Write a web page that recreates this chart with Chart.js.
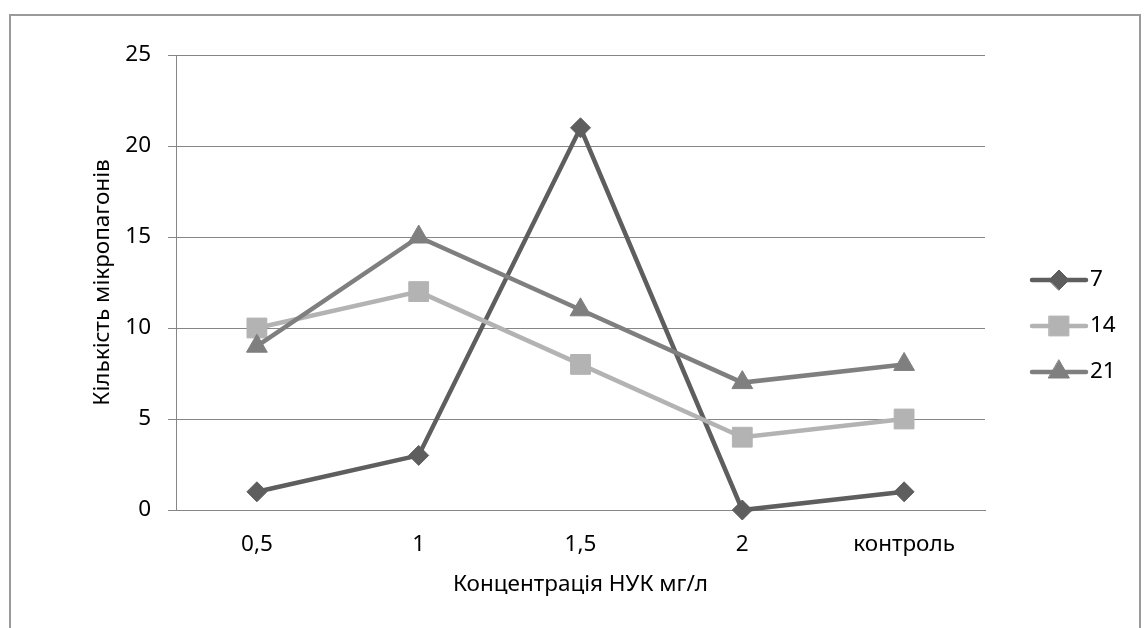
<!DOCTYPE html>
<html>
<head>
<meta charset="utf-8">
<script src="https://cdn.jsdelivr.net/npm/chart.js@4/dist/chart.umd.min.js"></script>
<style>
  html, body { margin: 0; padding: 0; background: #fff; overflow: hidden; }
  #wrap { position: relative; width: 1146px; height: 628px; }
  #frame {
    position: absolute; left: 9px; top: 14px; width: 1132px; height: 700px;
    border: 2px solid #9a9a9a; box-sizing: border-box; pointer-events: none;
  }
</style>
</head>
<body>
<div id="wrap">
  <canvas id="chart" width="1146" height="628"></canvas>
  <div id="frame"></div>
</div>
<script>
/* ── Data ─────────────────────────────────────────────────────── */
const categories = ['0,5', '1', '1,5', '2', 'контроль'];
const series7    = [1, 3, 21, 0, 1];
const series14   = [10, 12, 8, 4, 5];
const series21   = [9, 15, 11, 7, 8];
const yTicks     = [0, 5, 10, 15, 20, 25];

const xTitle = 'Концентрація НУК мг/л';
const yTitle = 'Кількість мікропагонів';

const FONT = '"Noto Sans", "Open Sans", sans-serif';
const FSIZE = 22.5;
const GRID = '#868686';

/* ── Custom legend + axis titles ─────────────────────────────── */
const extras = {
  id: 'extras',
  afterDraw(chart) {
    const { ctx, chartArea } = chart;
    ctx.save();
    ctx.fillStyle = '#000';
    ctx.font = `${FSIZE}px ${FONT}`;
    ctx.textAlign = 'center';
    ctx.textBaseline = 'middle';
    // x title
    ctx.fillText(xTitle, (chartArea.left + chartArea.right) / 2, 585);
    // y title
    ctx.save();
    ctx.translate(103, (chartArea.top + chartArea.bottom) / 2);
    ctx.rotate(-Math.PI / 2);
    ctx.fillText(yTitle, 0, 0);
    ctx.restore();

    // legend
    const legendY = [280, 326, 372];
    chart.data.datasets.forEach((ds, i) => {
      const y = legendY[i];
      ctx.strokeStyle = ds.borderColor;
      ctx.lineWidth = ds.borderWidth;
      ctx.lineCap = 'round';
      ctx.beginPath();
      ctx.moveTo(1032, y);
      ctx.lineTo(1086, y);
      ctx.stroke();
      ctx.fillStyle = ds.pointBackgroundColor;
      ctx.strokeStyle = ds.pointBorderColor;
      ctx.lineWidth = 1;
      Chart.helpers.drawPoint(ctx, {
        pointStyle: ds.pointStyle, radius: ds.pointRadius, rotation: 0, borderWidth: 1
      }, 1059, y);
      ctx.fillStyle = '#000';
      ctx.textAlign = 'left';
      ctx.fillText(ds.label, 1090, y);
    });
    ctx.restore();
  }
};

/* ── Chart ───────────────────────────────────────────────────── */
function makeSet(label, data, color, style, radius, order) {
  return {
    label, data, order,
    borderColor: color,
    backgroundColor: color,
    borderWidth: 4.5,
    pointStyle: style,
    pointRadius: radius,
    pointBackgroundColor: color,
    pointBorderColor: color,
    pointBorderWidth: 1,
    tension: 0,
    clip: false,
  };
}

new Chart(document.getElementById('chart').getContext('2d'), {
  type: 'line',
  data: {
    labels: categories,
    datasets: [
      makeSet('7',  series7,  '#5e5e5e', 'rectRot', 10, 3),
      makeSet('14', series14, '#b3b3b3', 'rect', 14, 2),
      makeSet('21', series21, '#7f7f7f', 'triangle', 12, 1),
    ],
  },
  options: {
    responsive: false,
    animation: false,
    devicePixelRatio: 1,
    layout: { padding: { left: 0, top: 55, right: 161, bottom: 0 } },
    plugins: { legend: { display: false }, tooltip: { enabled: false } },
    scales: {
      x: {
        offset: true,
        grid: { display: false, drawTicks: false },
        border: { display: true, color: GRID, width: 1 },
        ticks: { color: '#000', font: { family: FONT, size: FSIZE }, padding: 21, maxRotation: 0 },
        afterFit: s => { s.height = 118; },
      },
      y: {
        min: 0, max: 25,
        afterBuildTicks: s => { s.ticks = yTicks.map(v => ({ value: v })); },
        grid: { color: GRID, lineWidth: 1, tickLength: 8, tickColor: GRID },
        border: { display: true, color: GRID, width: 1 },
        ticks: { color: '#000', font: { family: FONT, size: FSIZE }, padding: 17 },
        afterFit: s => { s.width = 176; },
      },
    },
  },
  plugins: [extras],
});
</script>
</body>
</html>
